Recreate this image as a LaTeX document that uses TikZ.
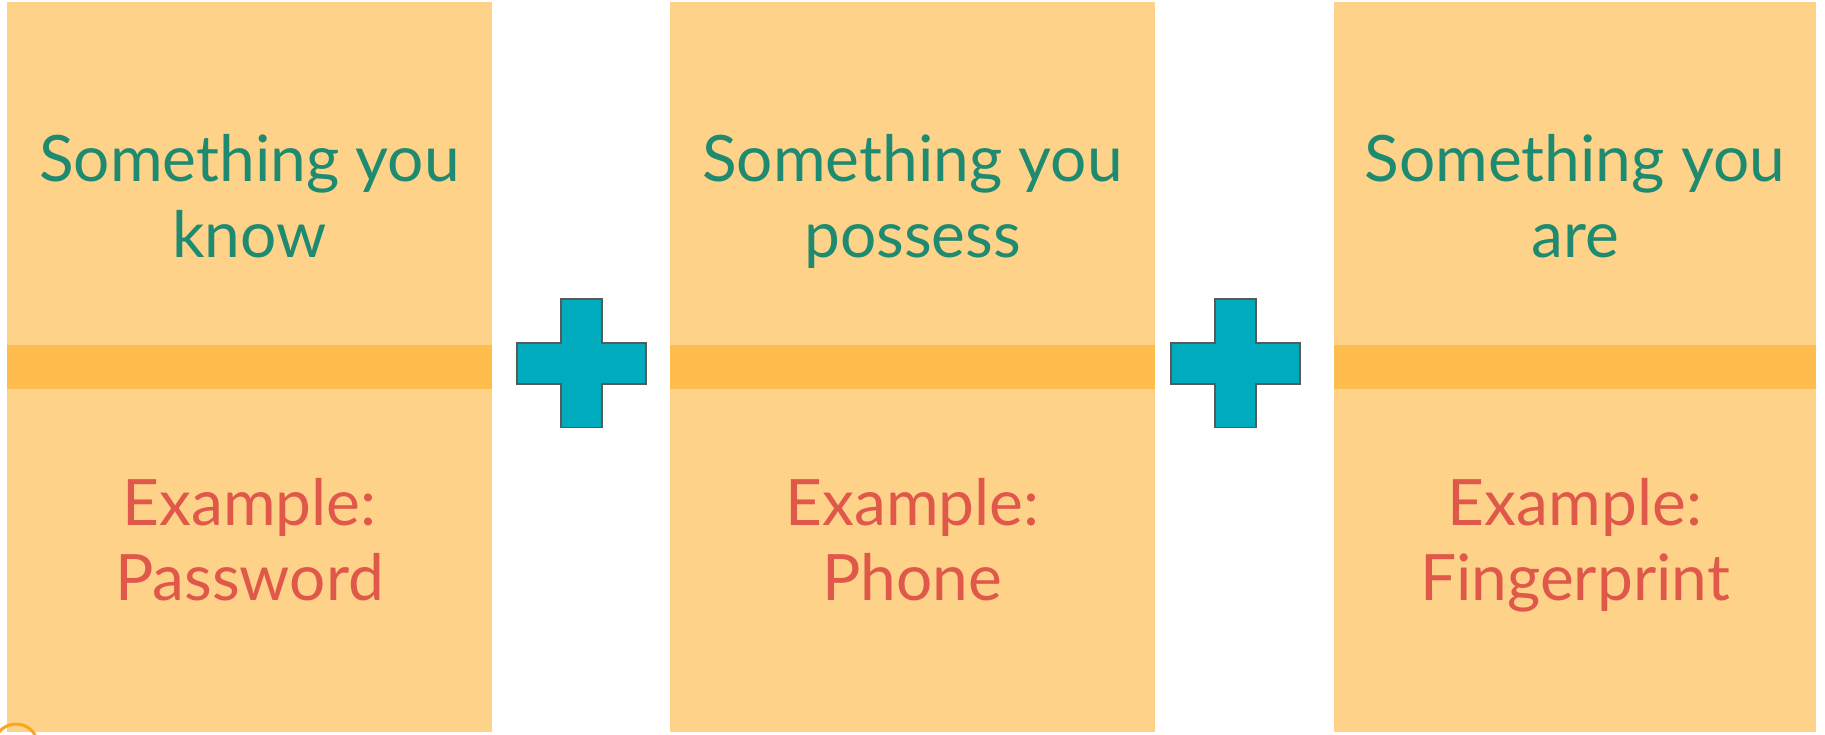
\documentclass[tikz,border=0pt]{standalone}
\usepackage{fontspec}
\setmainfont{Lato}
\definecolor{cardyellow}{RGB}{254,211,137}
\definecolor{bandorange}{RGB}{254,189,77}
\definecolor{plusteal}{RGB}{0,171,189}
\definecolor{textgreen}{RGB}{30,138,112}
\definecolor{textred}{RGB}{224,88,74}
\definecolor{ringorange}{RGB}{250,166,26}
\tikzset{
  factor/.style={text=textgreen, align=center, anchor=base, font=\fontsize{64}{76}\selectfont},
  sample/.style={text=textred, align=center, anchor=base, font=\fontsize{64}{75}\selectfont},
  plus/.style={fill=plusteal, draw=black!65, line width=1.6pt}
}
\begin{document}
\begin{tikzpicture}[x=1pt,y=-1pt]
\useasboundingbox (0,0) rectangle (1825,734);
\fill[white] (0,0) rectangle (1825,734);
% cards
\fill[cardyellow] (7,2) rectangle (492,732); \fill[cardyellow] (670,2) rectangle (1155,732); \fill[cardyellow] (1334,2) rectangle (1816,732);
\fill[bandorange] (7,345) rectangle (492,389); \fill[bandorange] (670,345) rectangle (1155,389); \fill[bandorange] (1334,345) rectangle (1816,389);
% plus signs
\draw[plus,shift={(581.3,363.3)}] (-20.6,-64.3) -- (20.6,-64.3) -- (20.6,-20.6) -- (64.6,-20.6) -- (64.6,20.6) -- (20.6,20.6) -- (20.6,64.3) -- (-20.6,64.3) -- (-20.6,20.6) -- (-64.6,20.6) -- (-64.6,-20.6) -- (-20.6,-20.6) -- cycle;
\draw[plus,shift={(1235.3,363.3)}] (-20.6,-64.3) -- (20.6,-64.3) -- (20.6,-20.6) -- (64.6,-20.6) -- (64.6,20.6) -- (20.6,20.6) -- (20.6,64.3) -- (-20.6,64.3) -- (-20.6,20.6) -- (-64.6,20.6) -- (-64.6,-20.6) -- (-20.6,-20.6) -- cycle;
% texts
\node[factor] (know) at (249.5,257) {Something you\\know};
\node[factor] (possess) at (912.5,257) {Something you\\possess};
\node[factor] (are) at (1575,257) {Something you\\are};
\node[sample] (password) at (249.5,600) {Example:\\Password};
\node[sample] (phone) at (912.5,600) {Example:\\Phone};
\node[sample] (fingerprint) at (1575,600) {Example:\\Fingerprint};
% ring in the corner
\draw[ringorange,line width=3pt] (16,746) circle (22);
\end{tikzpicture}
\end{document}
